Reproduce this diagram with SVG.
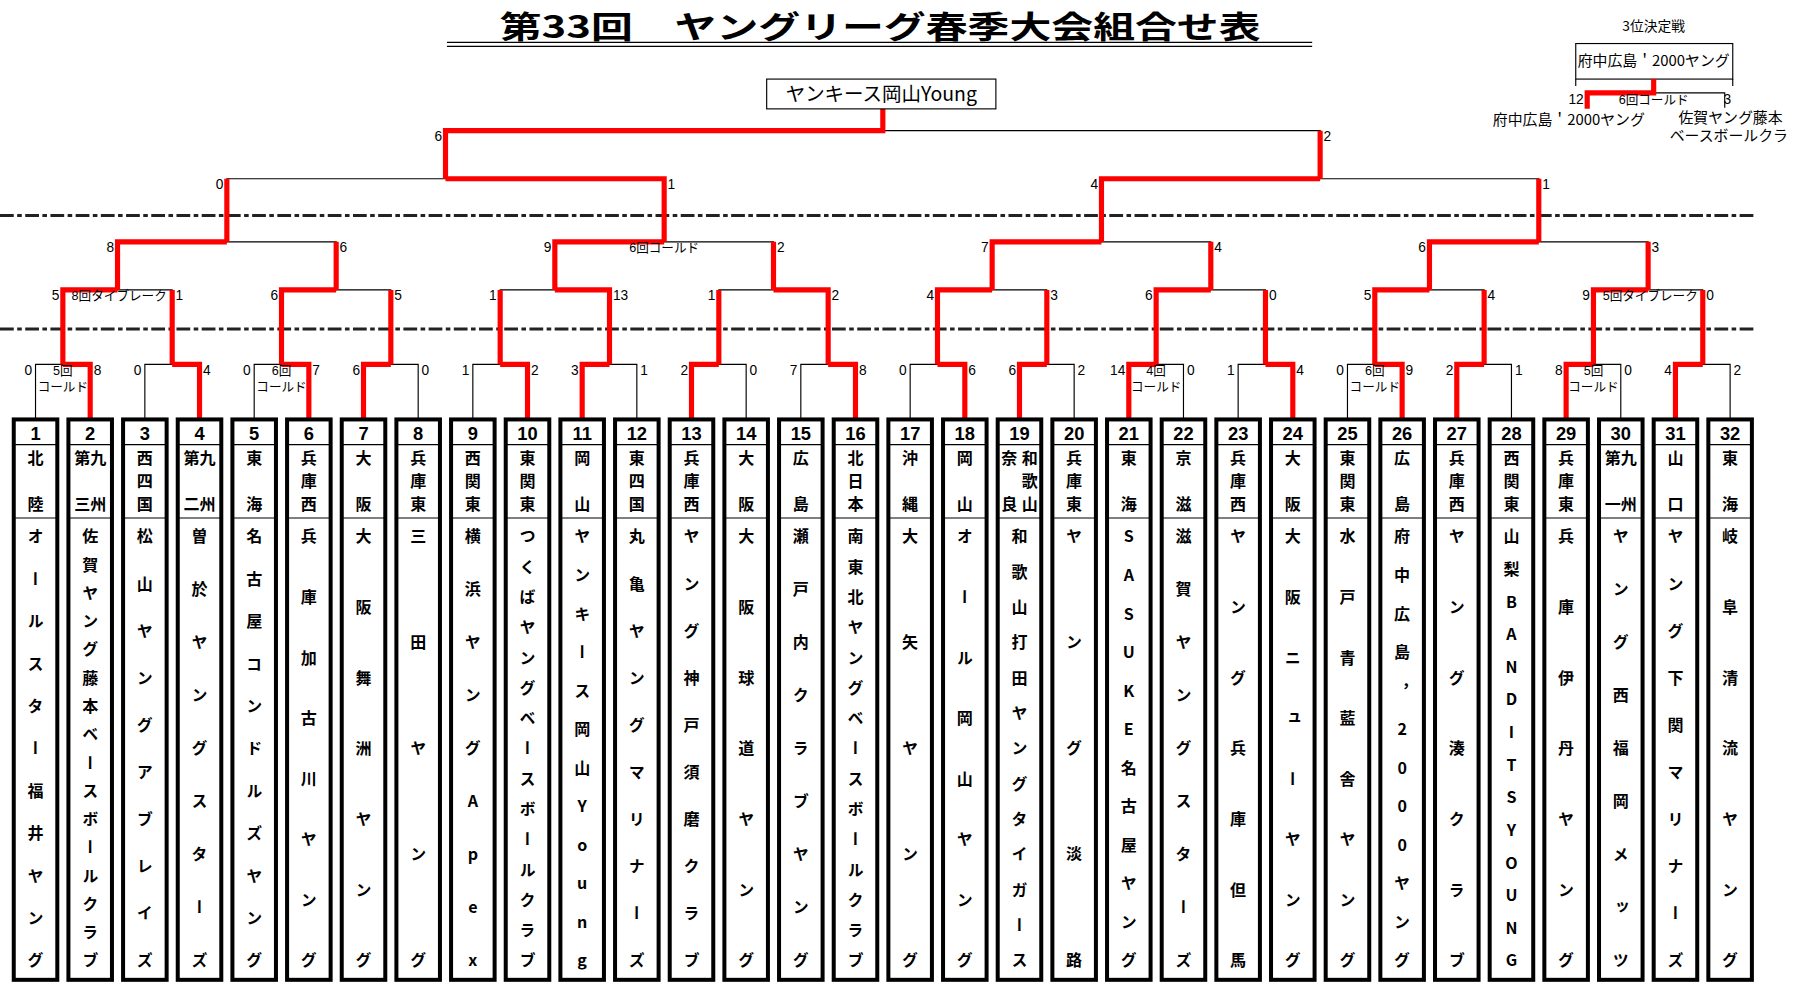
<svg xmlns="http://www.w3.org/2000/svg" width="1794" height="991" viewBox="0 0 1794 991">
<style>
.ln{fill:none;stroke:#000;stroke-width:1}
.rd{fill:none;stroke:#f00;stroke-width:4.5;stroke-linejoin:miter}
.dash{fill:none;stroke:#222;stroke-width:2.6;stroke-dasharray:12 3 4 3}
.box{fill:#fff;stroke:#000;stroke-width:3.5}
.sep{stroke:#000;stroke-width:1}
.num{font:bold 16px "Liberation Sans",sans-serif;text-anchor:middle}
.reg{font-weight:bold;font-size:14px;font-family:"Noto Sans CJK JP",sans-serif;writing-mode:vertical-rl;text-orientation:upright}
.reg2{font-weight:bold;font-size:14px;font-family:"Noto Sans CJK JP",sans-serif;text-anchor:middle}
.sl{font:12px "Liberation Sans",sans-serif;text-anchor:end}
.sr{font:12px "Liberation Sans",sans-serif;text-anchor:start}
.note{font-size:11px;font-family:"Liberation Sans","Noto Sans CJK JP",sans-serif;text-anchor:middle}
.jp{font-family:"Noto Sans CJK JP",sans-serif}
</style>
<rect width="1794" height="991" fill="#fff"/>
<g transform="scale(1.146)">
<g id="title">
<text x="768" y="33" class="jp" font-size="27" font-weight="bold" text-anchor="middle" textLength="664" lengthAdjust="spacingAndGlyphs">第33回　ヤングリーグ春季大会組合せ表</text>
<path class="ln" d="M390 37H1145M390 40.5H1145"/>
</g>
<path class="dash" d="M0 188H1530M0 287H1530"/>
<g id="connectors">
<path class="ln" d="M31 366V318H78.7V366M126.4 366V318H174.1V366M221.8 366V318H269.5V366M317.2 366V318H364.9V366M412.6 366V318H460.3V366M508 366V318H555.7V366M603.4 366V318H651.1V366M698.8 366V318H746.5V366M794.2 366V318H841.9V366M889.6 366V318H937.3V366M985 366V318H1032.7V366M1080.4 366V318H1128.1V366M1175.8 366V318H1223.5V366M1271.2 366V318H1318.9V366M1366.6 366V318H1414.3V366M1462 366V318H1509.7V366"/>
<path class="ln" d="M54.85 318V253H150.25V318M245.65 318V253H341.05V318M436.45 318V253H531.85V318M627.25 318V253H722.65V318M818.05 318V253H913.45V318M1008.85 318V253H1104.25V318M1199.65 318V253H1295.05V318M1390.45 318V253H1485.85V318"/>
<path class="ln" d="M102.55 253V211H293.35V253M484.15 253V211H674.95V253M865.75 253V211H1056.55V253M1247.35 253V211H1438.15V253"/>
<path class="ln" d="M197.95 211V156H579.55V211M961.15 211V156H1342.75V211M388.75 156V114H1151.95V156M770.35 114V95"/>
<path class="rd" d="M78.7 366V318H54.85M174.1 366V318H150.25M269.5 366V318H245.65M317.2 366V318H341.05M460.3 366V318H436.45M508 366V318H531.85M603.4 366V318H627.25M746.5 366V318H722.65M841.9 366V318H818.05M889.6 366V318H913.45M985 366V318H1008.85M1128.1 366V318H1104.25M1223.5 366V318H1199.65M1271.2 366V318H1295.05M1366.6 366V318H1390.45M1462 366V318H1485.85"/>
<path class="rd" d="M54.85 318V253H102.55M150.25 318V253M245.65 318V253H293.35M341.05 318V253M531.85 318V253H484.15M436.45 318V253M722.65 318V253H674.95M627.25 318V253M818.05 318V253H865.75M913.45 318V253M1008.85 318V253H1056.55M1104.25 318V253M1199.65 318V253H1247.35M1295.05 318V253M1390.45 318V253H1438.15M1485.85 318V253"/>
<path class="rd" d="M102.55 253V211H197.95M293.35 253V211M484.15 253V211H579.55M674.95 253V211M865.75 253V211H961.15M1056.55 253V211M1247.35 253V211H1342.75M1438.15 253V211"/>
<path class="rd" d="M579.55 211V156H388.75M197.95 211V156M961.15 211V156H1151.95M1342.75 211V156M388.75 156V114H770.35V95M1151.95 156V114"/>
</g>
<g id="scores">
<text class="sl" x="28" y="327">0</text><text class="sr" x="81.7" y="327">8</text>
<text class="sl" x="123.4" y="327">0</text><text class="sr" x="177.1" y="327">4</text>
<text class="sl" x="218.8" y="327">0</text><text class="sr" x="272.5" y="327">7</text>
<text class="sl" x="314.2" y="327">6</text><text class="sr" x="367.9" y="327">0</text>
<text class="sl" x="409.6" y="327">1</text><text class="sr" x="463.3" y="327">2</text>
<text class="sl" x="505" y="327">3</text><text class="sr" x="558.7" y="327">1</text>
<text class="sl" x="600.4" y="327">2</text><text class="sr" x="654.1" y="327">0</text>
<text class="sl" x="695.8" y="327">7</text><text class="sr" x="749.5" y="327">8</text>
<text class="sl" x="791.2" y="327">0</text><text class="sr" x="844.9" y="327">6</text>
<text class="sl" x="886.6" y="327">6</text><text class="sr" x="940.3" y="327">2</text>
<text class="sl" x="982" y="327">14</text><text class="sr" x="1035.7" y="327">0</text>
<text class="sl" x="1077.4" y="327">1</text><text class="sr" x="1131.1" y="327">4</text>
<text class="sl" x="1172.8" y="327">0</text><text class="sr" x="1226.5" y="327">9</text>
<text class="sl" x="1268.2" y="327">2</text><text class="sr" x="1321.9" y="327">1</text>
<text class="sl" x="1363.6" y="327">8</text><text class="sr" x="1417.3" y="327">0</text>
<text class="sl" x="1459" y="327">4</text><text class="sr" x="1512.7" y="327">2</text>
<text class="note" x="54.85" y="327">5回</text><text class="note" x="54.85" y="341">コールド</text>
<text class="note" x="245.65" y="327">6回</text><text class="note" x="245.65" y="341">コールド</text>
<text class="note" x="1008.85" y="327">4回</text><text class="note" x="1008.85" y="341">コールド</text>
<text class="note" x="1199.65" y="327">6回</text><text class="note" x="1199.65" y="341">コールド</text>
<text class="note" x="1390.45" y="327">5回</text><text class="note" x="1390.45" y="341">コールド</text>
<text class="sl" x="51.85" y="262">5</text><text class="sr" x="153.25" y="262">1</text>
<text class="sl" x="242.65" y="262">6</text><text class="sr" x="344.05" y="262">5</text>
<text class="sl" x="433.45" y="262">1</text><text class="sr" x="534.85" y="262">13</text>
<text class="sl" x="624.25" y="262">1</text><text class="sr" x="725.65" y="262">2</text>
<text class="sl" x="815.05" y="262">4</text><text class="sr" x="916.45" y="262">3</text>
<text class="sl" x="1005.85" y="262">6</text><text class="sr" x="1107.25" y="262">0</text>
<text class="sl" x="1196.65" y="262">5</text><text class="sr" x="1298.05" y="262">4</text>
<text class="sl" x="1387.45" y="262">9</text><text class="sr" x="1488.85" y="262">0</text>
<text class="note" x="104" y="262">8回タイブレーク</text>
<text class="note" x="1440" y="262">5回タイブレーク</text>
<text class="sl" x="99.55" y="220">8</text><text class="sr" x="296.35" y="220">6</text>
<text class="sl" x="481.15" y="220">9</text><text class="sr" x="677.95" y="220">2</text>
<text class="note" x="579.55" y="220">6回コールド</text>
<text class="sl" x="862.75" y="220">7</text><text class="sr" x="1059.55" y="220">4</text>
<text class="sl" x="1244.35" y="220">6</text><text class="sr" x="1441.15" y="220">3</text>
<text class="sl" x="194.95" y="165">0</text><text class="sr" x="582.55" y="165">1</text>
<text class="sl" x="958.15" y="165">4</text><text class="sr" x="1345.75" y="165">1</text>
<text class="sl" x="385.75" y="123">6</text><text class="sr" x="1154.95" y="123">2</text>
</g>
<g id="champion">
<rect x="669" y="69" width="200" height="26" fill="#fff" stroke="#000" stroke-width="1"/>
<text x="769" y="88" class="jp" font-size="17" text-anchor="middle">ヤンキース岡山Young</text>
</g>
<g id="third-place">
<text x="1443" y="27" class="jp" font-size="12" text-anchor="middle">3位決定戦</text>
<rect x="1375" y="38" width="137" height="31" fill="#fff" stroke="#000" stroke-width="1"/>
<text x="1443" y="58" class="jp" font-size="13" text-anchor="middle">府中広島＇2000ヤング</text>
<path class="ln" d="M1375 69V75M1512 69V75M1443 81H1505V94"/>
<path class="rd" d="M1443 69V81H1385V95" stroke-width="4"/>
<text class="sl" x="1382" y="91">12</text><text class="sr" x="1504" y="91">3</text>
<text class="note" x="1443" y="91">6回コールド</text>
<text x="1369" y="109" class="jp" font-size="13" text-anchor="middle">府中広島＇2000ヤング</text>
<text x="1510" y="107" class="jp" font-size="13" text-anchor="middle">佐賀ヤング藤本</text>
<text x="1457" y="123" class="jp" font-size="13">ベースボールクラ</text>
</g>
<g id="team-1"><rect class="box" x="12" y="366" width="38" height="489"/><path class="sep" d="M12 388h38M12 452h38"/><text class="num" x="31" y="384">1</text><text class="reg" x="31" y="393" textLength="54">北陸</text><text class="reg" x="31" y="461" textLength="384">オールスター福井ヤング</text></g>
<g id="team-2"><rect class="box" x="59.7" y="366" width="38" height="489"/><path class="sep" d="M59.7 388h38M59.7 452h38"/><text class="num" x="78.7" y="384">2</text><text class="reg2" x="78.7" y="405">第九</text><text class="reg2" x="78.7" y="445">三州</text><text class="reg" x="78.7" y="461" textLength="384">佐賀ヤング藤本ベースボールクラブ</text></g>
<g id="team-3"><rect class="box" x="107.4" y="366" width="38" height="489"/><path class="sep" d="M107.4 388h38M107.4 452h38"/><text class="num" x="126.4" y="384">3</text><text class="reg" x="126.4" y="393" textLength="54">西四国</text><text class="reg" x="126.4" y="461" textLength="384">松山ヤングアブレイズ</text></g>
<g id="team-4"><rect class="box" x="155.1" y="366" width="38" height="489"/><path class="sep" d="M155.1 388h38M155.1 452h38"/><text class="num" x="174.1" y="384">4</text><text class="reg2" x="174.1" y="405">第九</text><text class="reg2" x="174.1" y="445">二州</text><text class="reg" x="174.1" y="461" textLength="384">曽於ヤングスターズ</text></g>
<g id="team-5"><rect class="box" x="202.8" y="366" width="38" height="489"/><path class="sep" d="M202.8 388h38M202.8 452h38"/><text class="num" x="221.8" y="384">5</text><text class="reg" x="221.8" y="393" textLength="54">東海</text><text class="reg" x="221.8" y="461" textLength="384">名古屋コンドルズヤング</text></g>
<g id="team-6"><rect class="box" x="250.5" y="366" width="38" height="489"/><path class="sep" d="M250.5 388h38M250.5 452h38"/><text class="num" x="269.5" y="384">6</text><text class="reg" x="269.5" y="393" textLength="54">兵庫西</text><text class="reg" x="269.5" y="461" textLength="384">兵庫加古川ヤング</text></g>
<g id="team-7"><rect class="box" x="298.2" y="366" width="38" height="489"/><path class="sep" d="M298.2 388h38M298.2 452h38"/><text class="num" x="317.2" y="384">7</text><text class="reg" x="317.2" y="393" textLength="54">大阪</text><text class="reg" x="317.2" y="461" textLength="384">大阪舞洲ヤング</text></g>
<g id="team-8"><rect class="box" x="345.9" y="366" width="38" height="489"/><path class="sep" d="M345.9 388h38M345.9 452h38"/><text class="num" x="364.9" y="384">8</text><text class="reg" x="364.9" y="393" textLength="54">兵庫東</text><text class="reg" x="364.9" y="461" textLength="384">三田ヤング</text></g>
<g id="team-9"><rect class="box" x="393.6" y="366" width="38" height="489"/><path class="sep" d="M393.6 388h38M393.6 452h38"/><text class="num" x="412.6" y="384">9</text><text class="reg" x="412.6" y="393" textLength="54">西関東</text><text class="reg" x="412.6" y="461" textLength="384">横浜ヤングApex</text></g>
<g id="team-10"><rect class="box" x="441.3" y="366" width="38" height="489"/><path class="sep" d="M441.3 388h38M441.3 452h38"/><text class="num" x="460.3" y="384">10</text><text class="reg" x="460.3" y="393" textLength="54">東関東</text><text class="reg" x="460.3" y="461" textLength="384">つくばヤングベースボールクラブ</text></g>
<g id="team-11"><rect class="box" x="489" y="366" width="38" height="489"/><path class="sep" d="M489 388h38M489 452h38"/><text class="num" x="508" y="384">11</text><text class="reg" x="508" y="393" textLength="54">岡山</text><text class="reg" x="508" y="461" textLength="384">ヤンキース岡山Young</text></g>
<g id="team-12"><rect class="box" x="536.7" y="366" width="38" height="489"/><path class="sep" d="M536.7 388h38M536.7 452h38"/><text class="num" x="555.7" y="384">12</text><text class="reg" x="555.7" y="393" textLength="54">東四国</text><text class="reg" x="555.7" y="461" textLength="384">丸亀ヤングマリナーズ</text></g>
<g id="team-13"><rect class="box" x="584.4" y="366" width="38" height="489"/><path class="sep" d="M584.4 388h38M584.4 452h38"/><text class="num" x="603.4" y="384">13</text><text class="reg" x="603.4" y="393" textLength="54">兵庫西</text><text class="reg" x="603.4" y="461" textLength="384">ヤング神戸須磨クラブ</text></g>
<g id="team-14"><rect class="box" x="632.1" y="366" width="38" height="489"/><path class="sep" d="M632.1 388h38M632.1 452h38"/><text class="num" x="651.1" y="384">14</text><text class="reg" x="651.1" y="393" textLength="54">大阪</text><text class="reg" x="651.1" y="461" textLength="384">大阪球道ヤング</text></g>
<g id="team-15"><rect class="box" x="679.8" y="366" width="38" height="489"/><path class="sep" d="M679.8 388h38M679.8 452h38"/><text class="num" x="698.8" y="384">15</text><text class="reg" x="698.8" y="393" textLength="54">広島</text><text class="reg" x="698.8" y="461" textLength="384">瀬戸内クラブヤング</text></g>
<g id="team-16"><rect class="box" x="727.5" y="366" width="38" height="489"/><path class="sep" d="M727.5 388h38M727.5 452h38"/><text class="num" x="746.5" y="384">16</text><text class="reg" x="746.5" y="393" textLength="54">北日本</text><text class="reg" x="746.5" y="461" textLength="384">南東北ヤングベースボールクラブ</text></g>
<g id="team-17"><rect class="box" x="775.2" y="366" width="38" height="489"/><path class="sep" d="M775.2 388h38M775.2 452h38"/><text class="num" x="794.2" y="384">17</text><text class="reg" x="794.2" y="393" textLength="54">沖縄</text><text class="reg" x="794.2" y="461" textLength="384">大矢ヤング</text></g>
<g id="team-18"><rect class="box" x="822.9" y="366" width="38" height="489"/><path class="sep" d="M822.9 388h38M822.9 452h38"/><text class="num" x="841.9" y="384">18</text><text class="reg" x="841.9" y="393" textLength="54">岡山</text><text class="reg" x="841.9" y="461" textLength="384">オール岡山ヤング</text></g>
<g id="team-19"><rect class="box" x="870.6" y="366" width="38" height="489"/><path class="sep" d="M870.6 388h38M870.6 452h38"/><text class="num" x="889.6" y="384">19</text><text class="reg2" x="880.6" y="405">奈</text><text class="reg2" x="880.6" y="445">良</text><text class="reg2" x="898.6" y="405">和</text><text class="reg2" x="898.6" y="425">歌</text><text class="reg2" x="898.6" y="445">山</text><text class="reg" x="889.6" y="461" textLength="384">和歌山打田ヤングタイガース</text></g>
<g id="team-20"><rect class="box" x="918.3" y="366" width="38" height="489"/><path class="sep" d="M918.3 388h38M918.3 452h38"/><text class="num" x="937.3" y="384">20</text><text class="reg" x="937.3" y="393" textLength="54">兵庫東</text><text class="reg" x="937.3" y="461" textLength="384">ヤング淡路</text></g>
<g id="team-21"><rect class="box" x="966" y="366" width="38" height="489"/><path class="sep" d="M966 388h38M966 452h38"/><text class="num" x="985" y="384">21</text><text class="reg" x="985" y="393" textLength="54">東海</text><text class="reg" x="985" y="461" textLength="384">SASUKE名古屋ヤング</text></g>
<g id="team-22"><rect class="box" x="1013.7" y="366" width="38" height="489"/><path class="sep" d="M1013.7 388h38M1013.7 452h38"/><text class="num" x="1032.7" y="384">22</text><text class="reg" x="1032.7" y="393" textLength="54">京滋</text><text class="reg" x="1032.7" y="461" textLength="384">滋賀ヤングスターズ</text></g>
<g id="team-23"><rect class="box" x="1061.4" y="366" width="38" height="489"/><path class="sep" d="M1061.4 388h38M1061.4 452h38"/><text class="num" x="1080.4" y="384">23</text><text class="reg" x="1080.4" y="393" textLength="54">兵庫西</text><text class="reg" x="1080.4" y="461" textLength="384">ヤング兵庫但馬</text></g>
<g id="team-24"><rect class="box" x="1109.1" y="366" width="38" height="489"/><path class="sep" d="M1109.1 388h38M1109.1 452h38"/><text class="num" x="1128.1" y="384">24</text><text class="reg" x="1128.1" y="393" textLength="54">大阪</text><text class="reg" x="1128.1" y="461" textLength="384">大阪ニューヤング</text></g>
<g id="team-25"><rect class="box" x="1156.8" y="366" width="38" height="489"/><path class="sep" d="M1156.8 388h38M1156.8 452h38"/><text class="num" x="1175.8" y="384">25</text><text class="reg" x="1175.8" y="393" textLength="54">東関東</text><text class="reg" x="1175.8" y="461" textLength="384">水戸青藍舎ヤング</text></g>
<g id="team-26"><rect class="box" x="1204.5" y="366" width="38" height="489"/><path class="sep" d="M1204.5 388h38M1204.5 452h38"/><text class="num" x="1223.5" y="384">26</text><text class="reg" x="1223.5" y="393" textLength="54">広島</text><text class="reg" x="1223.5" y="461" textLength="384">府中広島，2000ヤング</text></g>
<g id="team-27"><rect class="box" x="1252.2" y="366" width="38" height="489"/><path class="sep" d="M1252.2 388h38M1252.2 452h38"/><text class="num" x="1271.2" y="384">27</text><text class="reg" x="1271.2" y="393" textLength="54">兵庫西</text><text class="reg" x="1271.2" y="461" textLength="384">ヤング湊クラブ</text></g>
<g id="team-28"><rect class="box" x="1299.9" y="366" width="38" height="489"/><path class="sep" d="M1299.9 388h38M1299.9 452h38"/><text class="num" x="1318.9" y="384">28</text><text class="reg" x="1318.9" y="393" textLength="54">西関東</text><text class="reg" x="1318.9" y="461" textLength="384">山梨BANDITSYOUNG</text></g>
<g id="team-29"><rect class="box" x="1347.6" y="366" width="38" height="489"/><path class="sep" d="M1347.6 388h38M1347.6 452h38"/><text class="num" x="1366.6" y="384">29</text><text class="reg" x="1366.6" y="393" textLength="54">兵庫東</text><text class="reg" x="1366.6" y="461" textLength="384">兵庫伊丹ヤング</text></g>
<g id="team-30"><rect class="box" x="1395.3" y="366" width="38" height="489"/><path class="sep" d="M1395.3 388h38M1395.3 452h38"/><text class="num" x="1414.3" y="384">30</text><text class="reg2" x="1414.3" y="405">第九</text><text class="reg2" x="1414.3" y="445">一州</text><text class="reg" x="1414.3" y="461" textLength="384">ヤング西福岡メッツ</text></g>
<g id="team-31"><rect class="box" x="1443" y="366" width="38" height="489"/><path class="sep" d="M1443 388h38M1443 452h38"/><text class="num" x="1462" y="384">31</text><text class="reg" x="1462" y="393" textLength="54">山口</text><text class="reg" x="1462" y="461" textLength="384">ヤング下関マリナーズ</text></g>
<g id="team-32"><rect class="box" x="1490.7" y="366" width="38" height="489"/><path class="sep" d="M1490.7 388h38M1490.7 452h38"/><text class="num" x="1509.7" y="384">32</text><text class="reg" x="1509.7" y="393" textLength="54">東海</text><text class="reg" x="1509.7" y="461" textLength="384">岐阜清流ヤング</text></g>
</g>
</svg>
